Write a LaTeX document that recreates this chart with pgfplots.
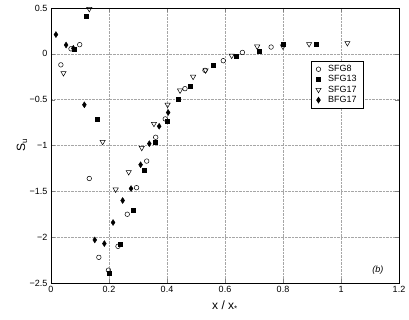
\documentclass[border=0pt]{standalone}
\usepackage{pgfplots}
\pgfplotsset{compat=1.18}
\usepackage{fontspec}
\setmainfont{Liberation Sans}

\begin{document}
\begin{tikzpicture}
\path[use as bounding box] (-51pt,-37pt) rectangle (358pt,283pt);
\begin{axis}[
    at={(0,0)}, anchor=south west,
    scale only axis,
    width=348pt, height=275pt,
    xmin=0, xmax=1.2,
    ymin=-2.5, ymax=0.5,
    xtick={0,0.2,0.4,0.6,0.8,1,1.2},
    xticklabels={0,0.2,0.4,0.6,0.8,1,1.2},
    ytick={-2.5,-2,-1.5,-1,-0.5,0,0.5},
    yticklabels={−2.5,−2,−1.5,−1,−0.5,0,0.5},
    tick label style={font=\fontsize{9}{10}\selectfont},
    tick align=inside,
    major tick length=4pt,
    grid=major,
    grid style={densely dotted, gray!70, line width=0.4pt},
    axis line style={black, line width=0.6pt},
    xlabel={x / x\textsubscript{*}},
    ylabel={S\textsubscript{u}},
    xlabel style={font=\fontsize{12}{13}\selectfont, at={(rel axis cs:0.5,0)}, anchor=center, yshift=-23pt},
    ylabel style={font=\fontsize{12}{13}\selectfont, at={(rel axis cs:0,0.5)}, anchor=center, yshift=29pt},
    legend cell align=left,
    legend style={
        font=\fontsize{9}{10.5}\selectfont,
        at={(0.899,0.807)}, anchor=north east,
        draw=black, fill=white, line width=0.5pt,
        row sep=-1.5pt, inner xsep=5pt, inner ysep=2pt,
        /tikz/every odd column/.append style={column sep=5pt},
    },
    clip=false,
]
%% SFG8
\addplot[only marks, mark=o, mark size=2.3pt, black, line width=0.5pt]
    coordinates {
    (0.034,-0.12) (0.069,0.055) (0.099,0.10) (0.132,-1.36) (0.165,-2.22)
    (0.198,-2.36) (0.231,-2.10) (0.263,-1.75) (0.295,-1.46) (0.330,-1.17)
    (0.361,-0.91) (0.394,-0.71) (0.462,-0.38) (0.531,-0.18) (0.594,-0.075)
    (0.66,0.015) (0.759,0.074)
    };
\addlegendentry{SFG8}
%% SFG13
\addplot[only marks, mark=square*, mark size=2pt, black]
    coordinates {
    (0.081,0.05) (0.121,0.41) (0.159,-0.71) (0.199,-2.39) (0.24,-2.08)
    (0.282,-1.71) (0.32,-1.27) (0.359,-0.96) (0.399,-0.74) (0.439,-0.50)
    (0.48,-0.355) (0.559,-0.127) (0.64,-0.024) (0.718,0.034) (0.80,0.106)
    (0.916,0.107)
    };
\addlegendentry{SFG13}
%% SFG17
\addplot[only marks, mark=triangle, mark size=3pt, mark options={rotate=180}, black, line width=0.5pt]
    coordinates {
    (0.043,-0.21) (0.132,0.49) (0.178,-0.96) (0.223,-1.48) (0.268,-1.29)
    (0.313,-1.025) (0.355,-0.763) (0.402,-0.555) (0.445,-0.40) (0.49,-0.25)
    (0.533,-0.18) (0.623,-0.02) (0.711,0.08) (0.80,0.08) (0.89,0.107)
    (1.022,0.118)
    };
\addlegendentry{SFG17}
%% BFG17
\addplot[only marks, mark=diamond*, mark size=2.6pt, mark options={yscale=1.15}, black]
    coordinates {
    (0.017,0.21) (0.052,0.096) (0.077,0.06) (0.115,-0.556) (0.151,-2.03)
    (0.184,-2.07) (0.214,-1.84) (0.247,-1.60) (0.276,-1.47) (0.309,-1.21)
    (0.339,-0.98) (0.373,-0.79) (0.404,-0.64)
    };
\addlegendentry{BFG17}

\node[font=\itshape\fontsize{9}{10}\selectfont] at (axis cs:1.127,-2.36) {(b)};
\end{axis}
\end{tikzpicture}
\end{document}
